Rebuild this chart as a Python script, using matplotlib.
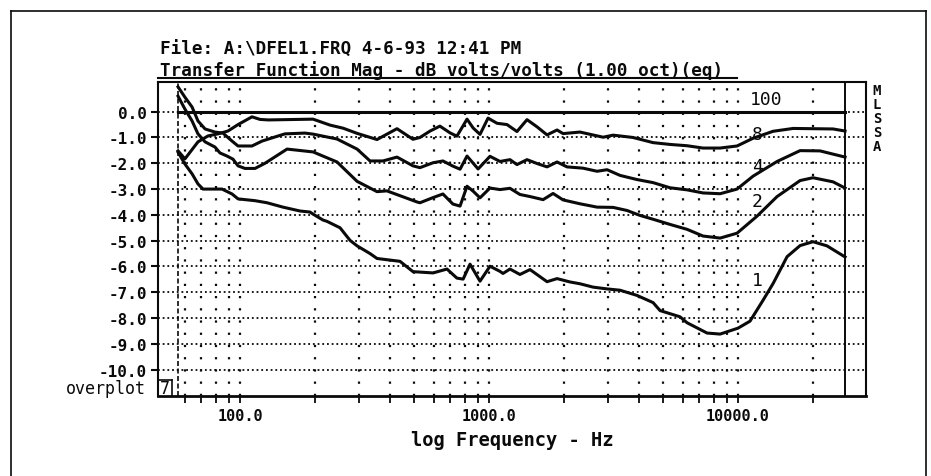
import numpy as np
import matplotlib
matplotlib.use("Agg")
import matplotlib.pyplot as plt
from matplotlib.lines import Line2D
from matplotlib.ticker import FixedLocator, NullFormatter

# ---- data (Hz, dB) ----
f_100 = [56.4, 26900]
db_100 = [0.0, 0.0]

f_8 = [56.4, 60.1, 67.8, 74.4, 81.6, 89.5, 98.2, 111.7, 120.3, 130, 196.5, 229.8,
       259.4, 295.2, 355, 427, 495, 528, 580, 635, 697, 743, 816, 863, 920, 991,
       1077, 1181, 1295, 1421, 1560, 1710, 1876, 1983, 2318, 2873, 3150, 3785,
       4559, 5333, 6240, 7234, 8472, 9909, 11490, 13830, 16640, 24080, 26900]
db_8 = [-1.52, -1.83, -1.17, -0.94, -0.86, -0.75, -0.50, -0.20, -0.30, -0.32, -0.29, -0.52,
        -0.64, -0.84, -1.08, -0.66, -1.07, -1.00, -0.75, -0.56, -0.82, -0.95, -0.29, -0.63, -0.88, -0.25,
        -0.45, -0.50, -0.77, -0.31, -0.59, -0.90, -0.71, -0.85, -0.79, -0.99, -0.91, -1.00,
        -1.20, -1.27, -1.32, -1.41, -1.41, -1.33, -1.03, -0.76, -0.65, -0.67, -0.75]

f_4 = [56.4, 60.1, 64.2, 67.8, 72.4, 79.3, 85.4, 92.9, 98.2, 111.7, 122.6, 138.2,
       151.6, 182.4, 196.5, 245.3, 295.2, 332.8, 375, 427, 495, 528, 596, 653, 716,
       765, 816, 904, 1009, 1107, 1214, 1295, 1421, 1560, 1710, 1876, 2056, 2386,
       2716, 2980, 3359, 3925, 4559, 5333, 6240, 7234, 8472, 9909, 11490, 14350,
       17750, 21330, 26900]
db_4 = [0.96, 0.56, 0.18, -0.36, -0.67, -0.79, -0.83, -1.14, -1.33, -1.33, -1.14, -0.98,
        -0.86, -0.83, -0.87, -1.06, -1.45, -1.91, -1.91, -1.76, -2.10, -2.17, -1.98, -1.91, -2.11,
        -2.23, -1.72, -2.22, -1.73, -1.93, -1.86, -2.05, -1.86, -2.01, -2.14, -1.95, -2.14, -2.19,
        -2.31, -2.25, -2.47, -2.63, -2.75, -2.95, -3.03, -3.15, -3.18, -3.00, -2.50, -1.93,
        -1.51, -1.52, -1.76]

f_2 = [56.4, 60.1, 64.2, 67.8, 72.4, 79.3, 83.1, 88.7, 93.7, 98.2, 104.7, 114.9, 126,
       154.5, 196.5, 245.3, 295.2, 355, 389, 514, 528, 596, 653, 716, 765, 816, 863,
       920, 1009, 1107, 1214, 1331, 1461, 1649, 1808, 1983, 2318, 2716, 3150, 3583,
       4036, 4559, 5333, 6240, 7234, 8472, 9909, 11920, 14350, 17750, 20000, 24080, 26900]
db_2 = [0.60, 0.10, -0.36, -0.86, -1.17, -1.37, -1.60, -1.72, -1.84, -2.10, -2.20, -2.20, -2.00,
        -1.45, -1.56, -1.95, -2.70, -3.10, -3.07, -3.50, -3.53, -3.33, -3.19, -3.58, -3.66, -2.89, -3.08,
        -3.34, -2.96, -3.02, -2.97, -3.21, -3.29, -3.41, -3.17, -3.42, -3.57, -3.70, -3.71, -3.83,
        -4.02, -4.17, -4.37, -4.56, -4.82, -4.90, -4.71, -4.05, -3.29, -2.67, -2.56, -2.72, -2.96]

f_1 = [56.4, 60.1, 64.2, 67.8, 71.0, 84.7, 92.9, 98.2, 114.9, 128.3, 148.8, 174.2, 191,
       196.5, 215.4, 223.4, 252.2, 276.7, 295.2, 332.8, 355, 439, 495, 596, 678, 743,
       787, 839, 920, 1009, 1107, 1138, 1214, 1331, 1461, 1710, 1876, 2114, 2318, 2617,
       2980, 3359, 3925, 4559, 4864, 5848, 6240, 7509, 8472, 10000, 11170, 12600, 13830,
       15740, 17750, 20000, 22750, 26900]
db_1 = [-1.57, -2.03, -2.41, -2.80, -3.00, -3.00, -3.19, -3.38, -3.45, -3.53, -3.70, -3.85, -3.89,
        -3.97, -4.20, -4.25, -4.50, -4.99, -5.20, -5.50, -5.69, -5.80, -6.20, -6.25, -6.10, -6.45,
        -6.49, -5.91, -6.57, -5.99, -6.19, -6.27, -6.10, -6.31, -6.12, -6.59, -6.47, -6.60, -6.67, -6.80,
        -6.87, -6.92, -7.12, -7.40, -7.71, -7.95, -8.18, -8.58, -8.62, -8.39, -8.12, -7.31, -6.66,
        -5.62, -5.19, -5.04, -5.20, -5.63]

curve_names = ["100", "8", "4", "2", "1"]
label_db = [0.48, -0.88, -2.12, -3.47, -6.53]

major_f = [100, 1000, 10000]
major_labels = ["100.0", "1000.0", "10000.0"]
minor_f = [60, 70, 80, 90, 200, 300, 400, 500, 600, 700, 800, 900,
           2000, 3000, 4000, 5000, 6000, 7000, 8000, 9000, 20000]
y_ticks = list(range(-10, 1))

W, H = 931, 477
MONO = "DejaVu Sans Mono"
INK = "#0a0a0a"


def px(x, y):
    return x / W, 1 - y / H


fig = plt.figure(figsize=(W / 100, H / 100), dpi=100)
fig.patch.set_facecolor("white")

l, b = px(158, 397)
r, t = px(866, 83)
ax = fig.add_axes([l, b, r - l, t - b])
ax.set_xscale("log")
ax.set_xlim(46.85, 32650)
ax.set_ylim(-11.02, 1.15)

# dotted grid
for f in major_f + minor_f:
    ax.axvline(f, color=INK, lw=1.6, ls=(0, (1, 4.5)), zorder=1)
for yv in y_ticks:
    ax.axhline(yv, color=INK, lw=1.3, ls=(0, (1, 1.6)), zorder=1)

# start-of-data cursor and end-of-data line
ax.axvline(f_100[0], color=INK, lw=1.2, ls=(0, (3, 1.5)), zorder=2)
ax.axvline(f_100[-1], color=INK, lw=1.4, zorder=2)

for fx, dy in [(f_100, db_100), (f_8, db_8), (f_4, db_4), (f_2, db_2), (f_1, db_1)]:
    ax.plot(fx, dy, color=INK, lw=2.2, zorder=3)

for name, yv in zip(curve_names, label_db):
    ax.text(11920 if name != "100" else 13000, yv, name, family=MONO, fontsize=13,
            ha="center", va="center", color=INK, zorder=4)

ax.xaxis.set_major_locator(FixedLocator(major_f))
ax.xaxis.set_minor_locator(FixedLocator(minor_f))
ax.set_xticklabels(major_labels)
ax.xaxis.set_minor_formatter(NullFormatter())
ax.set_yticks(y_ticks)
ax.set_yticklabels([f"{v:.1f}" for v in y_ticks])
ax.tick_params(axis="x", which="both", direction="out", length=5, width=1.3,
               pad=4, labelsize=11, colors=INK)
ax.tick_params(axis="y", which="both", direction="out", length=5, width=1.5,
               pad=3, labelsize=11.5, colors=INK)
for lab in ax.get_xticklabels() + ax.get_yticklabels():
    lab.set_family(MONO)
    lab.set_fontweight("bold")
for side, sp in ax.spines.items():
    sp.set_color(INK)
    sp.set_linewidth(2.0 if side == "bottom" else 1.5)

ax.set_xlabel("log Frequency - Hz", family=MONO, fontsize=13.5, color=INK,
              labelpad=5, fontweight="bold")

# title block
fig.text(*px(160, 55), "File: A:\\DFEL1.FRQ 4-6-93 12:41 PM", family=MONO,
         fontsize=12.7, va="baseline", ha="left", color=INK, fontweight="bold")
fig.text(*px(160, 76), "Transfer Function Mag - dB volts/volts (1.00 oct)(eq)",
         family=MONO, fontsize=12.7, va="baseline", ha="left", color=INK,
         fontweight="bold")
fig.add_artist(Line2D([158 / W, 737 / W], [1 - 79 / H] * 2, color=INK, lw=1.5))

# instrument name down the right edge
for i, ch in enumerate("MLSSA"):
    fig.text(*px(877, 91 + 14 * i), ch, family=MONO, fontsize=10,
             ha="center", va="center", color=INK, fontweight="bold")

# overplot box
fig.text(*px(146, 389), "overplot", family=MONO, fontsize=12, ha="right",
         va="center", color=INK)
fig.add_artist(Line2D([158 / W, 172 / W], [1 - 381 / H] * 2, color=INK, lw=1.2))
fig.add_artist(Line2D([172 / W] * 2, [1 - 381 / H, 1 - 397 / H], color=INK, lw=1.2))
fig.text(*px(165, 389), "7", family=MONO, fontsize=12, ha="center", va="center",
         color=INK)

# page border of the scan
fig.add_artist(Line2D([11 / W, 11 / W], [0, 1 - 12 / H], color=INK, lw=1.2))
fig.add_artist(Line2D([11 / W, 926 / W], [1 - 12 / H] * 2, color=INK, lw=1.2))
fig.add_artist(Line2D([926 / W, 926 / W], [0, 1 - 12 / H], color=INK, lw=1.2))

fig.savefig("out.png", dpi=100, facecolor="white")
